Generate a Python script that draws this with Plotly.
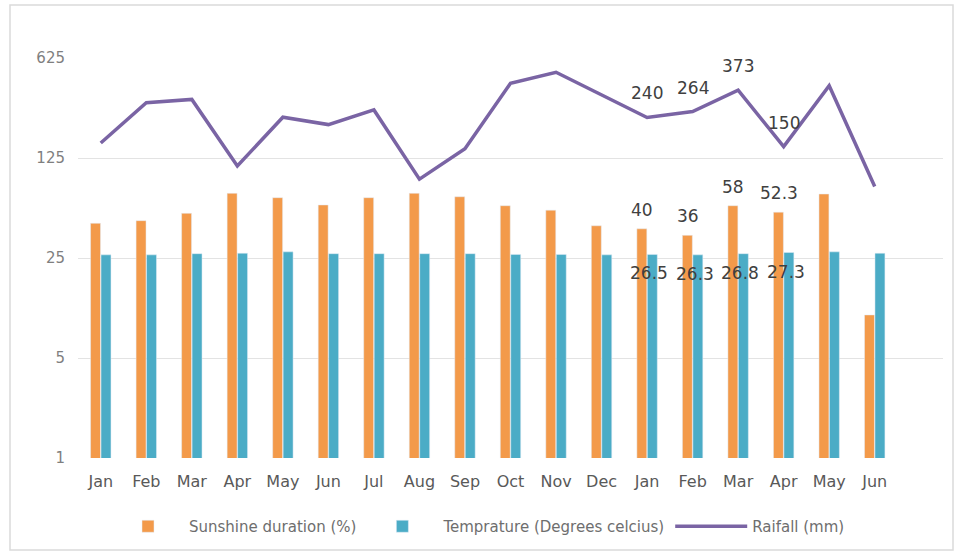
import math
import plotly.graph_objects as go

months = ["Jan", "Feb", "Mar", "Apr", "May", "Jun", "Jul", "Aug", "Sep", "Oct", "Nov", "Dec",
          "Jan", "Feb", "Mar", "Apr", "May", "Jun"]
sunshine = [43.7, 45.6, 51.3, 70.8, 66, 58.7, 66, 70.8, 67, 58, 54, 42, 40, 36, 58, 52.3, 70, 10]
temperature = [26.3, 26.3, 26.8, 27.0, 27.6, 26.8, 26.8, 26.8, 26.8, 26.5, 26.5, 26.3,
               26.5, 26.3, 26.8, 27.3, 27.6, 27.0]
rainfall = [159, 304, 321, 110, 241, 214, 271, 89, 145, 416, 497, 344, 240, 264, 373, 150, 400, 79]

sun_labels = [""] * 12 + ["40", "36", "58", "52.3", "", ""]
temp_labels = [""] * 12 + ["26.5", "26.3", "26.8", "27.3", "", ""]
rain_labels = [""] * 12 + ["240", "264", "373", "150", "", ""]

yticks = [1, 5, 25, 125, 625]

ORANGE = "#F39A4A"
TEAL = "#4BACC6"
PURPLE = "#7A64A4"
LABEL = "#404040"
FONT = "DejaVu Sans"

x = list(range(len(months)))

fig = go.Figure()
fig.add_trace(go.Bar(
    x=x, y=sunshine, name="Sunshine duration (%)", marker_color=ORANGE,
))
fig.add_trace(go.Bar(
    x=x, y=temperature, name="Temprature (Degrees celcius)", marker_color=TEAL,
))
fig.add_trace(go.Scatter(
    x=x, y=rainfall, name="Raifall (mm)", mode="lines",
    line=dict(color=PURPLE, width=3.5),
))

W, H = 954, 556
L, R, T, B = 78, 11, 58, 98
pw, ph = W - L - R, H - T - B

def px_to_paper_x(px):
    return (px - L) / pw

def px_to_paper_y(py):
    return (H - B - py) / ph

label_font = dict(family=FONT, size=17, color=LABEL)
annotations = []
for i, (t, v) in enumerate(zip(rain_labels, rainfall)):
    if t:
        annotations.append(dict(x=i, y=math.log10(v), text=t, showarrow=False,
                                yshift=24, font=label_font))
for i, (t, v) in enumerate(zip(sun_labels, sunshine)):
    if t:
        annotations.append(dict(x=i, y=math.log10(v), text=t, showarrow=False,
                                xshift=-5, yshift=19, font=label_font))
for i, (t, v) in enumerate(zip(temp_labels, temperature)):
    if t:
        annotations.append(dict(x=i, y=math.log10(v), text=t, showarrow=False,
                                xshift=2, yshift=-19, font=label_font))

fig.add_shape(type="rect", xref="paper", yref="paper",
              x0=px_to_paper_x(10), x1=px_to_paper_x(953),
              y0=px_to_paper_y(550), y1=px_to_paper_y(5),
              line=dict(color="#DADADA", width=1.5), layer="below")

fig.update_layout(
    width=W, height=H,
    margin=dict(l=L, r=R, t=T, b=B),
    paper_bgcolor="white", plot_bgcolor="white",
    barmode="group", bargap=0.54, bargroupgap=0.05,
    font=dict(family=FONT, color="#595959"),
    showlegend=True,
    annotations=annotations,
    legend=dict(orientation="h", x=px_to_paper_x(107), xanchor="left",
                y=px_to_paper_y(510), yanchor="top",
                font=dict(family=FONT, size=15, color="#6E6E6E"),
                itemwidth=72, traceorder="normal"),
    xaxis=dict(
        tickmode="array", tickvals=x, ticktext=months,
        range=[-0.5, len(months) + 0.5],
        showgrid=False, zeroline=False, showline=False, ticks="",
        tickfont=dict(family=FONT, size=16, color="#595959"),
        ticklabelstandoff=12,
    ),
    yaxis=dict(
        type="log", range=[0, math.log10(625)],
        tickmode="array", tickvals=yticks, ticktext=[str(v) for v in yticks],
        showgrid=True, gridcolor="#E3E3E3", gridwidth=1,
        zeroline=False, showline=False, ticks="",
        tickfont=dict(family=FONT, size=15, color="#7F7F7F"),
        ticklabelstandoff=12,
    ),
)

fig.write_html("out.html")
